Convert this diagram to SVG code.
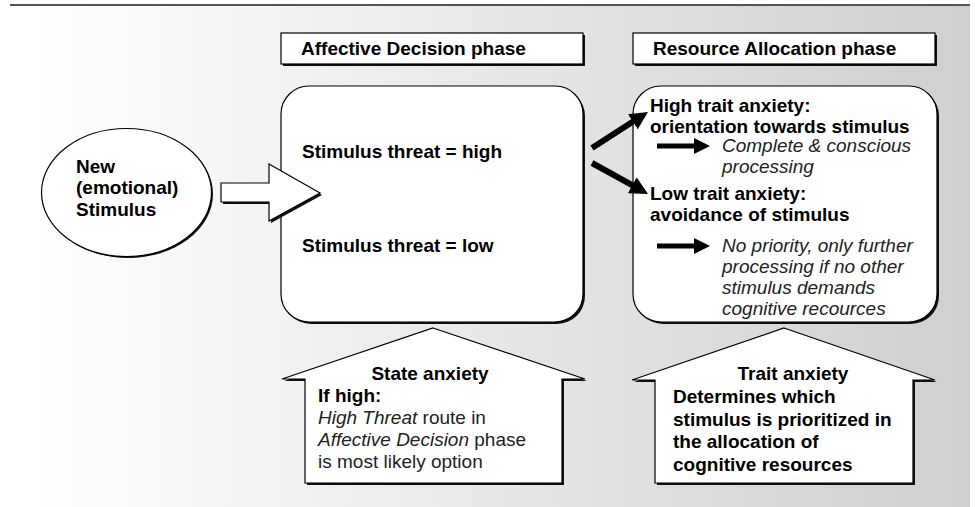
<svg xmlns="http://www.w3.org/2000/svg" width="975" height="507" viewBox="0 0 975 507">
  <defs>
    <linearGradient id="bg" gradientUnits="userSpaceOnUse" x1="30" y1="0" x2="970" y2="0">
      <stop offset="0" stop-color="#ffffff"/>
      <stop offset="1" stop-color="#cfcfcf"/>
    </linearGradient>
    <marker id="head" markerUnits="userSpaceOnUse" markerWidth="18" markerHeight="18" viewBox="0 0 18 18" refX="4" refY="9" orient="auto">
      <path d="M0,0 L18,9 L0,18 z" fill="#000"/>
    </marker>
    <marker id="headS" markerUnits="userSpaceOnUse" markerWidth="16" markerHeight="16" viewBox="0 0 16 16" refX="3" refY="8" orient="auto">
      <path d="M0,0 L16,8 L0,16 z" fill="#000"/>
    </marker>
  </defs>
  <style>
    .box { fill: #fff; stroke: #000; stroke-width: 1.2; }
    .shadow { fill: #111; stroke: none; }
    .b { font-family: "Liberation Sans", Arial, Helvetica, sans-serif; font-weight: bold; font-size: 19px; fill: #000; }
    .r { font-family: "Liberation Sans", Arial, Helvetica, sans-serif; font-size: 19px; fill: #222; }
    .i { font-style: italic; }
    .conn { stroke: #000; fill: none; }
  </style>

  <rect x="0" y="6" width="970" height="501" fill="url(#bg)"/>
  <line x1="10" y1="5" x2="970" y2="5" stroke="#555" stroke-width="2"/>

  <g id="header-affective">
    <rect class="shadow" x="283" y="35" width="302" height="31"/>
    <rect class="box" x="281" y="33" width="302" height="31"/>
    <text class="b" x="301" y="55">Affective Decision phase</text>
  </g>

  <g id="header-resource">
    <rect class="shadow" x="635" y="35" width="302" height="31"/>
    <rect class="box" x="633" y="33" width="302" height="31"/>
    <text class="b" x="653" y="55">Resource Allocation phase</text>
  </g>

  <g id="stimulus">
    <ellipse class="shadow" cx="128" cy="194" rx="85" ry="64"/>
    <ellipse class="box" cx="126.5" cy="192.5" rx="85" ry="64"/>
    <text class="b" x="76" y="173">New</text>
    <text class="b" x="76" y="194">(emotional)</text>
    <text class="b" x="76" y="216">Stimulus</text>
  </g>

  <g id="affective-decision">
    <rect class="shadow" x="283" y="88" width="302" height="236" rx="28"/>
    <rect class="box" x="281" y="86" width="302" height="236" rx="28"/>
    <text class="b" x="302" y="158">Stimulus threat = high</text>
    <text class="b" x="302" y="252">Stimulus threat = low</text>
  </g>

  <g id="resource-allocation">
    <rect class="shadow" x="635" y="88" width="304" height="236" rx="28"/>
    <rect class="box" x="633" y="86" width="304" height="236" rx="28"/>
    <text class="b" x="650" y="112">High trait anxiety:</text>
    <text class="b" x="650" y="133">orientation towards stimulus</text>
    <line class="conn" x1="657" y1="146" x2="697" y2="146" stroke-width="5" marker-end="url(#headS)"/>
    <text class="r i" x="722" y="152">Complete &amp; conscious</text>
    <text class="r i" x="722" y="173">processing</text>
    <text class="b" x="650" y="200">Low trait anxiety:</text>
    <text class="b" x="650" y="221">avoidance of stimulus</text>
    <line class="conn" x1="657" y1="246" x2="697" y2="246" stroke-width="5" marker-end="url(#headS)"/>
    <text class="r i" x="722" y="252">No priority, only further</text>
    <text class="r i" x="722" y="273">processing if no other</text>
    <text class="r i" x="722" y="294">stimulus demands</text>
    <text class="r i" x="722" y="315">cognitive recources</text>
  </g>

  <g id="state-anxiety">
    <polygon class="shadow" points="435,330 587,381 564,381 564,485 307,485 307,381 284,381"/>
    <polygon class="box" points="433,328 585,379 562,379 562,483 305,483 305,379 282,379"/>
    <text class="b" x="430" y="380" text-anchor="middle">State anxiety</text>
    <text class="b" x="318" y="402">If high:</text>
    <text class="r" x="318" y="424"><tspan class="i">High Threat</tspan> route in</text>
    <text class="r" x="318" y="446"><tspan class="i">Affective Decision</tspan> phase</text>
    <text class="r" x="318" y="468">is most likely option</text>
  </g>

  <g id="trait-anxiety">
    <polygon class="shadow" points="786,330 937,382 915,382 915,485 657,485 657,382 634,382"/>
    <polygon class="box" points="784,328 935,380 913,380 913,483 655,483 655,380 632,380"/>
    <text class="b" x="793" y="380" text-anchor="middle">Trait anxiety</text>
    <text class="b" x="673" y="403">Determines which</text>
    <text class="b" x="673" y="426">stimulus is prioritized in</text>
    <text class="b" x="673" y="448">the allocation of</text>
    <text class="b" x="673" y="471">cognitive resources</text>
  </g>

  <g id="connectors">
    <polygon class="shadow" points="223,185 271,185 271,166 322,195 271,223 271,204 223,204"/>
    <polygon class="box" points="221,183 269,183 269,164 320,193 269,221 269,202 221,202"/>
    <line class="conn" x1="592" y1="148" x2="636.2" y2="119.6" stroke-width="6" marker-end="url(#head)"/>
    <line class="conn" x1="592" y1="163" x2="635.8" y2="187.2" stroke-width="6" marker-end="url(#head)"/>
  </g>
</svg>
